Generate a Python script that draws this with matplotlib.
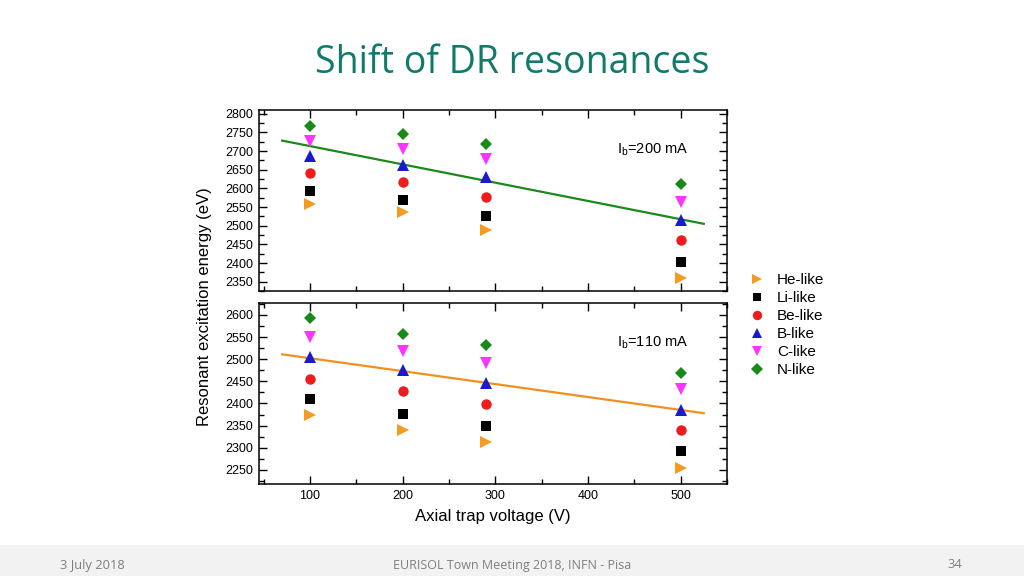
import matplotlib
matplotlib.use("Agg")
import matplotlib.pyplot as plt
from matplotlib.ticker import MultipleLocator
from matplotlib.lines import Line2D
from matplotlib.patches import Rectangle

# ---- data ----
voltages = [100, 200, 290, 500]
series_names = ["He-like", "Li-like", "Be-like", "B-like", "C-like", "N-like"]

top_200mA = {
    "He-like": [2558, 2537, 2489, 2360],
    "Li-like": [2593, 2570, 2525, 2404],
    "Be-like": [2640, 2617, 2578, 2461],
    "B-like":  [2687, 2663, 2630, 2515],
    "C-like":  [2727, 2706, 2678, 2563],
    "N-like":  [2768, 2747, 2720, 2613],
}
bottom_110mA = {
    "He-like": [2373, 2341, 2312, 2254],
    "Li-like": [2410, 2376, 2350, 2293],
    "Be-like": [2456, 2428, 2398, 2339],
    "B-like":  [2505, 2475, 2446, 2385],
    "C-like":  [2550, 2518, 2491, 2432],
    "N-like":  [2592, 2558, 2532, 2468],
}
fit_x = [70, 525]
fit_top = [2728, 2505]
fit_bottom = [2511, 2378]

styles = {
    "He-like": dict(marker=">", color="#f39a21", ms=8.5),
    "Li-like": dict(marker="s", color="#000000", ms=6.5),
    "Be-like": dict(marker="o", color="#ee1c1c", ms=7.5),
    "B-like":  dict(marker="^", color="#1a1acc", ms=8),
    "C-like":  dict(marker="v", color="#ff33ff", ms=8),
    "N-like":  dict(marker="D", color="#178a17", ms=6.5),
}

plt.rcParams["font.family"] = ["Liberation Sans", "DejaVu Sans"]

fig = plt.figure(figsize=(10.24, 5.76), dpi=100)
fig.patch.set_facecolor("white")

# footer band
fig.patches.append(Rectangle((0, 0), 1, 31/576, transform=fig.transFigure,
                             facecolor="#f2f2f2", edgecolor="none", zorder=0))

L, W, H = 259/1024, 468/1024, 181/576
ax1 = fig.add_axes([L, 1-291/576, W, H])
ax2 = fig.add_axes([L, 1-484/576, W, H])

def style_axis(ax, ylim, label):
    ax.set_xlim(45, 550)
    ax.set_ylim(*ylim)
    ax.xaxis.set_major_locator(MultipleLocator(100))
    ax.xaxis.set_minor_locator(MultipleLocator(50))
    ax.yaxis.set_major_locator(MultipleLocator(50))
    ax.yaxis.set_minor_locator(MultipleLocator(25))
    ax.tick_params(which="both", direction="in", top=True, right=True,
                   labelsize=9, width=1.0, pad=4)
    ax.tick_params(which="major", length=6)
    ax.tick_params(which="minor", length=3.5)
    for s in ax.spines.values():
        s.set_linewidth(1.1)
    ax.text(0.765, 0.78, label, transform=ax.transAxes, fontsize=10.5,
            va="center", ha="left")

def plot_panel(ax, data, fy, lc):
    ax.plot(fit_x, fy, color=lc, lw=1.6, zorder=2)
    for name in series_names:
        st = styles[name]
        ax.plot(voltages, data[name], linestyle="none", marker=st["marker"],
                color=st["color"], markersize=st["ms"], markeredgewidth=0,
                zorder=3)

plot_panel(ax1, top_200mA, fit_top, "#1b8a1b")
plot_panel(ax2, bottom_110mA, fit_bottom, "#f0901e")
style_axis(ax1, (2325, 2810), r"I$_\mathregular{b}$=200 mA")
style_axis(ax2, (2218, 2627), r"I$_\mathregular{b}$=110 mA")
ax1.tick_params(labelbottom=False)

ax2.set_xlabel("Axial trap voltage (V)", fontsize=12, labelpad=5)
fig.text(205/1024, 1-307/576, "Resonant excitation energy (eV)", rotation=90,
         fontsize=12, ha="center", va="center")

handles = [Line2D([], [], linestyle="none", marker=styles[n]["marker"],
                  color=styles[n]["color"], markersize=styles[n]["ms"]*0.9,
                  markeredgewidth=0) for n in series_names]
fig.legend(handles, series_names, loc="upper left",
           bbox_to_anchor=(742/1024, 1-267/576), frameon=False,
           fontsize=11, handlelength=1.2, handletextpad=0.7,
           labelspacing=0.26, borderaxespad=0)

fig.text(512/1024, 1-63/576, "Shift of DR resonances", fontsize=27,
         color="#117a6b", ha="center", va="center",
         family=["Open Sans", "DejaVu Sans"])

fig.text(60/1024, 1-565/576, "3 July 2018", fontsize=9.3, color="#7f7f7f",
         ha="left", va="center", family=["Open Sans", "DejaVu Sans"])
fig.text(512/1024, 1-565/576, "EURISOL Town Meeting 2018, INFN - Pisa",
         fontsize=9, color="#7f7f7f", ha="center", va="center",
         family=["Open Sans", "DejaVu Sans"])
fig.text(955/1024, 1-565/576, "34", fontsize=9.3, color="#7f7f7f",
         ha="center", va="center", family=["Open Sans", "DejaVu Sans"])

fig.savefig("out.png", dpi=100)
